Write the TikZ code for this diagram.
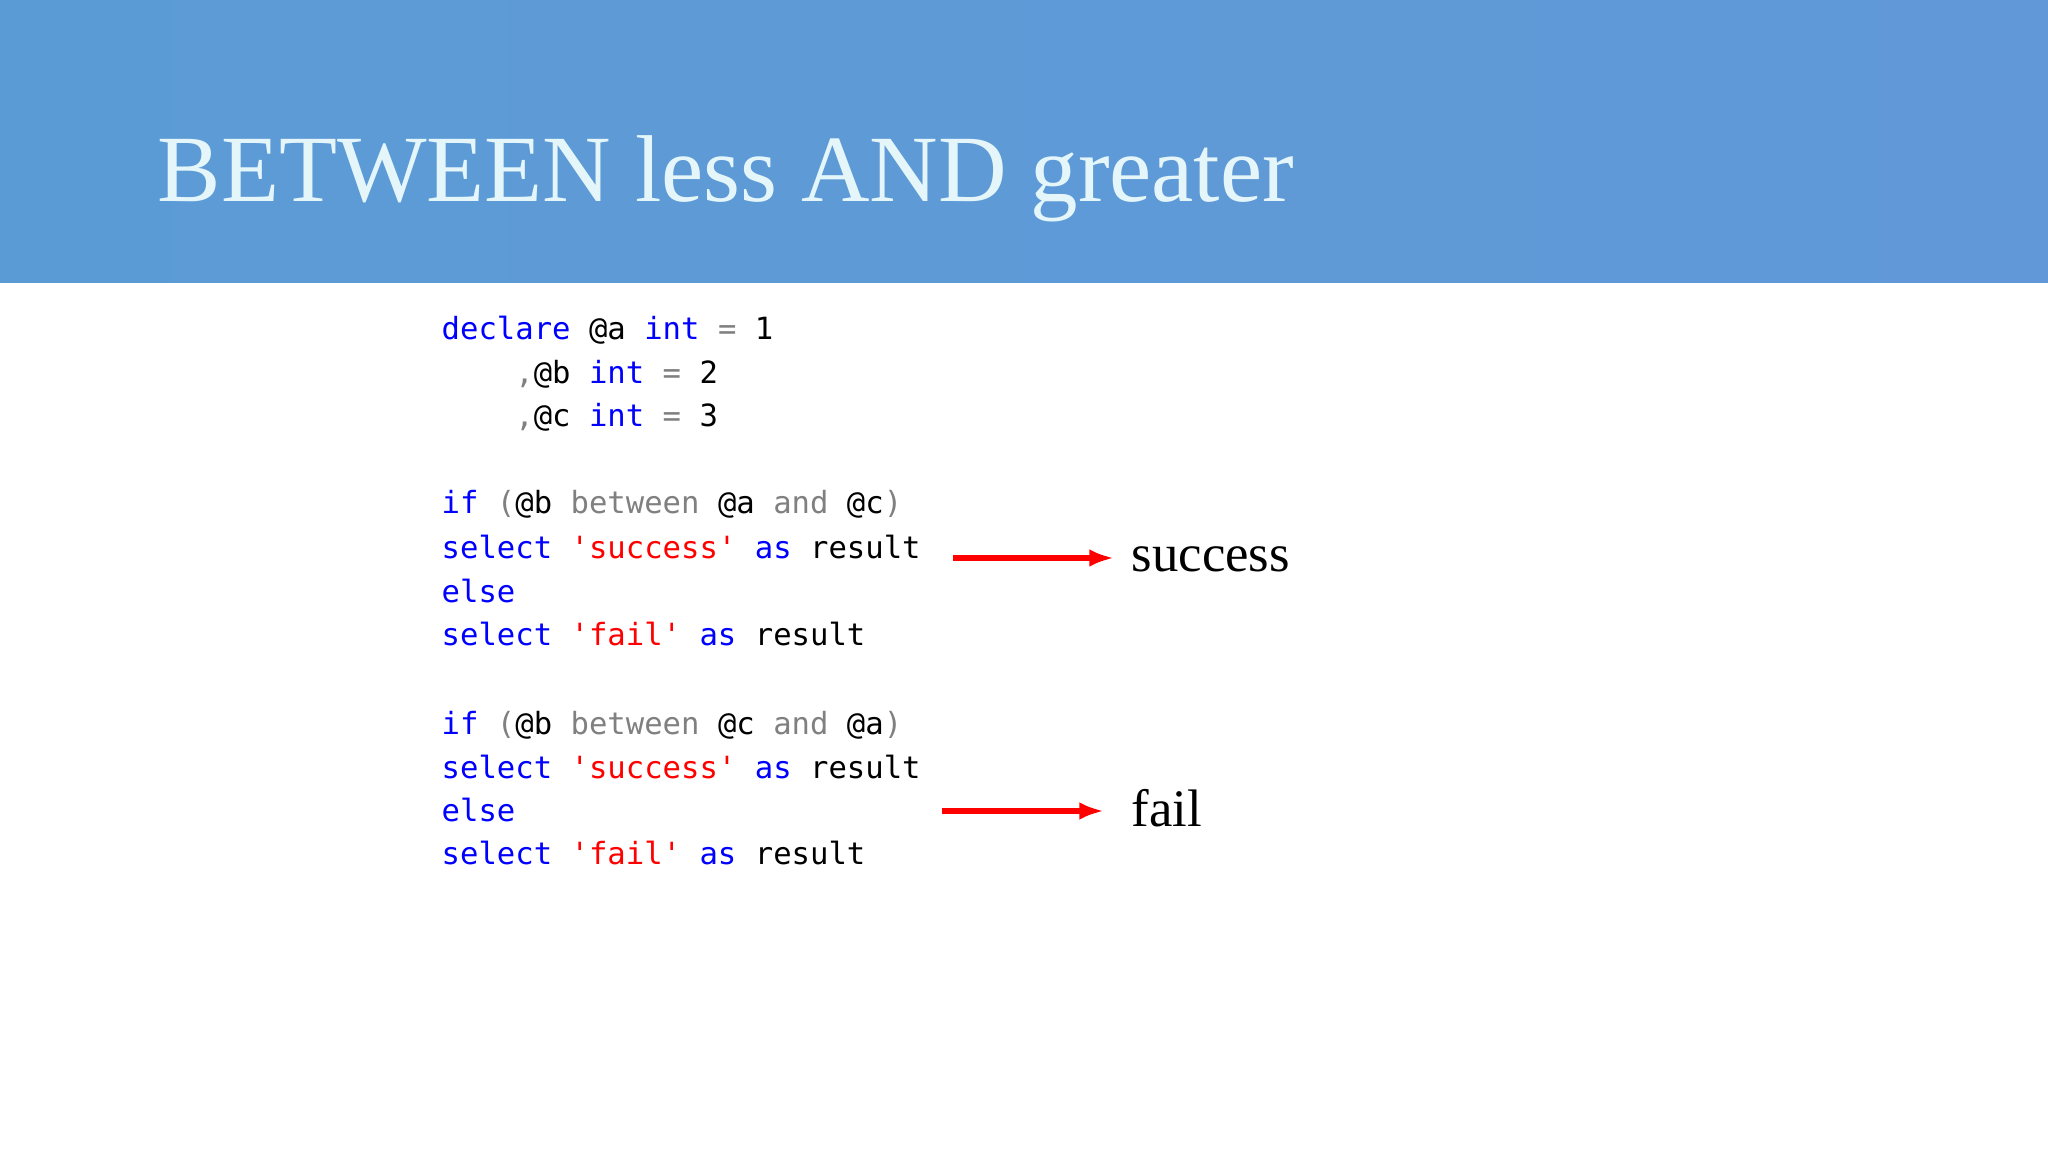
\documentclass[tikz,border=0pt]{standalone}
\usepackage{fontspec}
\setmainfont{Liberation Serif}
\setmonofont{DejaVu Sans Mono}
\usetikzlibrary{arrows.meta}
\definecolor{hdrA}{HTML}{5B9BD5}
\definecolor{hdrB}{HTML}{6199D8}
\definecolor{titlec}{HTML}{E4F6FA}
\definecolor{kw}{HTML}{0000FF}
\definecolor{gr}{HTML}{808080}
\definecolor{st}{HTML}{FF0000}
\newcommand{\K}[1]{\textcolor{kw}{#1}}
\newcommand{\G}[1]{\textcolor{gr}{#1}}
\newcommand{\Sx}[1]{\textcolor{st}{#1}}
\begin{document}
\begin{tikzpicture}[x=0.01cm,y=-0.01cm,
  code/.style={anchor=base west,inner sep=0,font=\ttfamily\fontsize{8.7}{10}\selectfont},
  res/.style={anchor=base west,inner sep=0,font=\fontsize{15}{18}\selectfont},
  arr/.style={red,line width=1.6pt,-{Latex[length=7pt,width=5pt]}}]
\useasboundingbox (0,0) rectangle (2048,1152);
\fill[white] (0,0) rectangle (2048,1152);
\shade[left color=hdrA,right color=hdrB] (0,0) rectangle (2048,283);
\node[anchor=base west,inner sep=0,text=titlec,font=\fontsize{27}{30}\selectfont] (title) at (157,202) {BETWEEN less AND greater};
\node[code] (l1) at (441,340) {\K{declare} @a \K{int} \G{=} 1};
\node[code] (l2) at (441,384) {\ \ \ \ \G{,}@b \K{int} \G{=} 2};
\node[code] (l3) at (441,427) {\ \ \ \ \G{,}@c \K{int} \G{=} 3};
\node[code] (l4) at (441,514) {\K{if} \G{(}@b \G{between} @a \G{and} @c\G{)}};
\node[code] (l5) at (441,559) {\K{select} \Sx{'success'} \K{as} result};
\node[code] (l6) at (441,603) {\K{else}};
\node[code] (l7) at (441,646) {\K{select} \Sx{'fail'} \K{as} result};
\node[code] (l8) at (441,734) {\K{if} \G{(}@b \G{between} @c \G{and} @a\G{)}};
\node[code] (l9) at (441,778) {\K{select} \Sx{'success'} \K{as} result};
\node[code] (l10) at (441,821) {\K{else}};
\node[code] (l11) at (441,864) {\K{select} \Sx{'fail'} \K{as} result};
\coordinate (a1) at (953,558);
\coordinate (a2) at (942,811);
\node[res] (r1) at (1131,572) {success};
\node[res] (r2) at (1131,826) {fail};
\draw[arr] (a1) -- (1114,558);
\draw[arr] (a2) -- (1104,811);
\end{tikzpicture}
\end{document}
